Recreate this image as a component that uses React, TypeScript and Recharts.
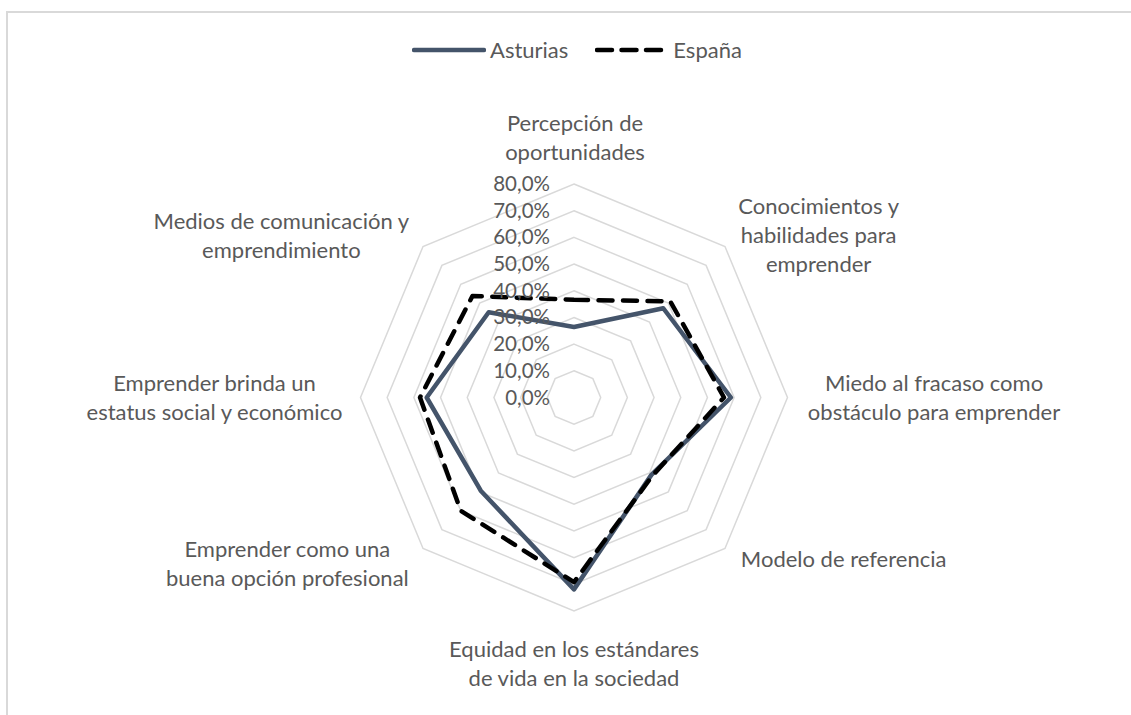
import { RadarChart, Radar, PolarGrid, PolarAngleAxis, PolarRadiusAxis, Legend } from "recharts";

// categories as they read around the radar, clockwise from the top
const CATEGORIES = [
  "Percepción de\noportunidades",
  "Conocimientos y\nhabilidades para\nemprender",
  "Miedo al fracaso como\nobstáculo para emprender",
  "Modelo de referencia",
  "Equidad en los estándares\nde vida en la sociedad",
  "Emprender como una\nbuena opción profesional",
  "Emprender brinda un\nestatus social y económico",
  "Medios de comunicación y\nemprendimiento",
];

const ASTURIAS = [26.4, 47.3, 58.8, 41.0, 71.9, 49.4, 55.2, 45.2];
const ESPANA = [36.6, 51.0, 56.2, 41.5, 69.2, 60.0, 57.7, 53.8];

const RADIUS_TICKS = [0, 10, 20, 30, 40, 50, 60, 70, 80];

const data = CATEGORIES.map((c, i) => ({ cat: c, asturias: ASTURIAS[i], espana: ESPANA[i] }));

const FONT = "Lato, 'Open Sans', sans-serif";
const TEXT = "#595959";
const LINE_H = 29;

// where each label block sits relative to its axis end (dx, dy of block centre)
const LABEL_OFFSET: [number, number][] = [
  [1, -38.5],
  [88, -5.5],
  [138.5, 0],
  [113, 4.5],
  [0, 44],
  [-130, 9.5],
  [-138, 0],
  [-136, -5],
];

const fmt = (v: number) => v.toFixed(1).replace(".", ",") + "%";

function AngleTick(props: any) {
  const { x, y, payload } = props;
  const idx = CATEGORIES.indexOf(payload.value);
  const [dx, dy] = LABEL_OFFSET[idx] || [0, 0];
  const lines = String(payload.value).split("\n");
  const cy = y + dy;
  return (
    <g>
      {lines.map((ln, i) => (
        <text
          key={i}
          x={x + dx}
          y={cy + (i - (lines.length - 1) / 2) * LINE_H + 8}
          textAnchor="middle"
          fill={TEXT}
          fontSize={22}
          fontFamily={FONT}
        >
          {ln}
        </text>
      ))}
    </g>
  );
}

function RadiusTick(props: any) {
  const { x, y, payload } = props;
  return (
    <text x={x - 24} y={y + 7} textAnchor="end" fill={TEXT} fontSize={20.5} fontFamily={FONT}>
      {fmt(payload.value)}
    </text>
  );
}

function LegendBox() {
  return (
    <div style={{ display: "flex", alignItems: "center", fontFamily: FONT, fontSize: 22, color: TEXT }}>
      <svg width={74} height={10}>
        <line x1={2} y1={5} x2={72} y2={5} stroke="#44546A" strokeWidth={4.5} strokeLinecap="round" />
      </svg>
      <span style={{ marginLeft: 4 }}>Asturias</span>
      <svg width={74} height={10} style={{ marginLeft: 27 }}>
        <line x1={2} y1={5} x2={68} y2={5} stroke="#000" strokeWidth={4.5} strokeLinecap="round" strokeDasharray="15 9.5" />
      </svg>
      <span style={{ marginLeft: 4 }}>España</span>
    </div>
  );
}

export default function App() {
  return (
    <div style={{ position: "fixed", left: 0, top: 0, width: 1131, height: 715, overflow: "hidden", background: "#fff" }}>
      <div
        style={{
          position: "absolute",
          left: 6,
          top: 11,
          width: 1300,
          height: 900,
          border: "2px solid #d9d9d9",
        }}
      />
      <div style={{ position: "absolute", left: 0, top: 0 }}>
        <RadarChart width={1131} height={715} data={data} cx={574} cy={397.5} outerRadius={213.5}>
          <PolarGrid gridType="polygon" radialLines={false} stroke="#d9d9d9" strokeWidth={1.5} />
          <PolarAngleAxis dataKey="cat" tick={<AngleTick />} tickSize={0} tickLine={false} axisLine={false} />
          <PolarRadiusAxis
            angle={90}
            domain={[0, 80]}
            ticks={RADIUS_TICKS}
            tickCount={9}
            tick={<RadiusTick />}
            axisLine={false}
            tickLine={false}
          />
          <Radar
            name="Asturias"
            dataKey="asturias"
            stroke="#44546A"
            strokeWidth={4.5}
            strokeLinejoin="round"
            fill="none"
            fillOpacity={0}
            dot={false}
            isAnimationActive={false}
          />
          <Radar
            name="España"
            dataKey="espana"
            stroke="#000"
            strokeWidth={4.5}
            strokeDasharray="14 10.5"
            strokeLinecap="round"
            strokeLinejoin="round"
            fill="none"
            fillOpacity={0}
            dot={false}
            isAnimationActive={false}
          />
          <Legend content={<LegendBox />} wrapperStyle={{ position: "absolute", top: 36, left: 412, width: "auto" }} />
        </RadarChart>
      </div>
    </div>
  );
}
